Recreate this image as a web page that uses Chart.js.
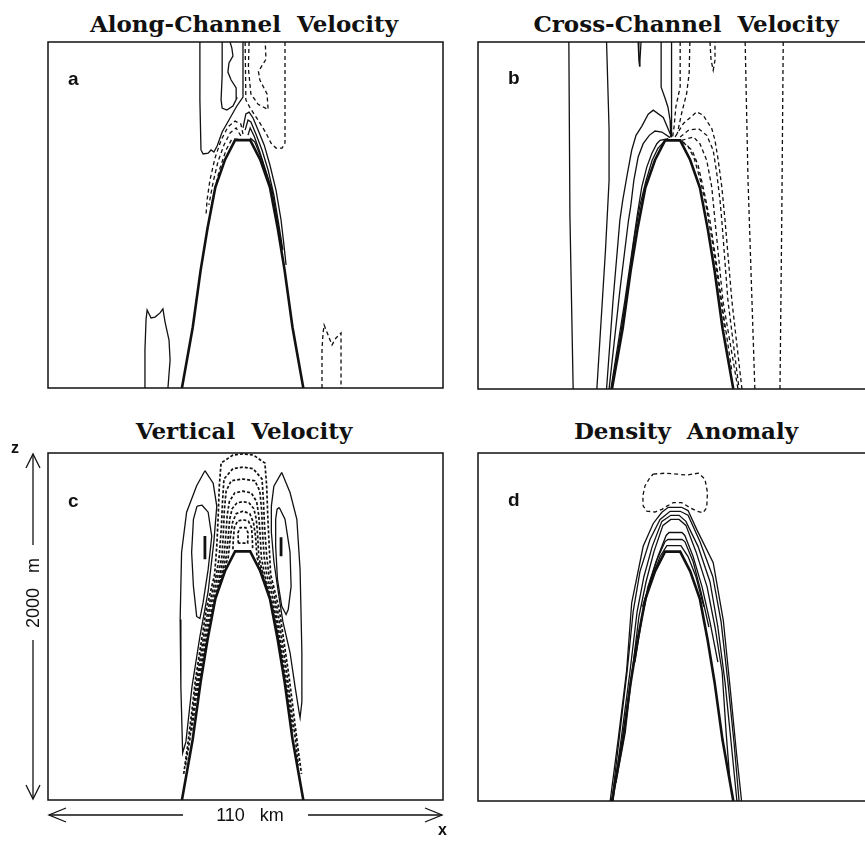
<!DOCTYPE html>
<html>
<head>
<meta charset="utf-8">
<script src="https://cdn.jsdelivr.net/npm/chart.js@4.4.1/dist/chart.umd.min.js"></script>
<style>
  body { margin: 0; background: #fff; width: 865px; height: 842px; overflow: hidden; position: relative; }
  canvas { position: absolute; }
  .title { position: absolute; font: bold 23px "DejaVu Serif", serif; line-height: 23px; white-space: pre; transform: translateX(-50%); color: #111; }
  .tag { position: absolute; font: bold 19px "Liberation Sans", Arial, sans-serif; line-height: 19px; color: #111; }
  .note { position: absolute; font: 18px "Liberation Sans", Arial, sans-serif; line-height: 18px; white-space: pre; color: #111; }
  .axis { font-weight: bold; font-size: 16px; }
</style>
</head>
<body>
<div class="title" style="left:244px;top:12px">Along-Channel  Velocity</div>
<div class="title" style="left:686px;top:12px">Cross-Channel  Velocity</div>
<div class="title" style="left:244px;top:419px">Vertical  Velocity</div>
<div class="title" style="left:686px;top:419px">Density  Anomaly</div>

<canvas id="along" width="401" height="352" style="left:45px;top:39px"></canvas>
<canvas id="cross" width="401" height="353" style="left:475px;top:39px"></canvas>
<canvas id="vert" width="401" height="353" style="left:45px;top:450px"></canvas>
<canvas id="dens" width="401" height="354" style="left:475px;top:450px"></canvas>

<div class="tag" style="left:68px;top:69px">a</div>
<div class="tag" style="left:508px;top:68px">b</div>
<div class="tag" style="left:68px;top:491px">c</div>
<div class="tag" style="left:508px;top:490px">d</div>

<!-- domain size arrows -->
<svg width="865" height="842" style="position:absolute;left:0;top:0" fill="none" stroke="#111" stroke-width="1.3">
  <line x1="33" y1="454" x2="33" y2="545"/>
  <line x1="33" y1="640" x2="33" y2="799"/>
  <polyline points="26,468 33,454 40,468"/>
  <polyline points="26,785 33,799 40,785"/>
  <line x1="49" y1="815" x2="183" y2="815"/>
  <line x1="308" y1="815" x2="442" y2="815"/>
  <polyline points="66,808 49,815 66,822"/>
  <polyline points="425,808 442,815 425,822"/>
</svg>
<div class="note axis" style="left:11px;top:439px">z</div>
<div class="note axis" style="left:438px;top:821px">x</div>
<div class="note" style="left:250px;top:806px;transform:translateX(-50%)">110   km</div>
<div class="note" style="left:-17px;top:584px;width:100px;text-align:center;transform:rotate(-90deg)">2000   m</div>

<script>
// channel width (km) and depth (m)
const xMin = 0, xMax = 110;
const zMin = 0, zMax = 2000;

// ridge outline [km, m]
const ridge = [[37.3,0],[40.3,350],[42.5,680],[44.4,920],[46.6,1160],[49.3,1320],[52.1,1433],
  [56.3,1433],[59.1,1320],[61.8,1160],[64.0,920],[65.9,680],[68.1,350],[71.1,0]];

// (a) along-channel velocity
const alongSolid = [
  [[42.3,2000],[42.3,1665],[42.6,1376],[43.2,1353],[44.6,1358],[45.4,1376],[46.2,1364],[47.1,1399],[48.5,1480],[50.7,1561],[52.6,1630],[54.3,1682],[54.3,2000]],
  [[48.5,2000],[48.5,1809],[48.2,1665],[48.5,1618],[49.8,1607],[51.5,1630],[52.6,1676],[52.4,1734],[51.0,1780],[50.1,1826],[50.4,1879],[51.5,1919],[51.2,1965],[50.7,2000]],
  [[54.3,1503],[55.1,1584],[56.0,1595],[57.1,1561],[58.5,1491],[60.2,1405],[61.8,1289],[63.5,1144],[64.9,971],[65.7,827],[66.3,711]],
  [[54.9,1491],[55.7,1549],[56.5,1538],[57.9,1468],[59.6,1376],[61.3,1260],[62.9,1116],[64.3,942],[65.4,798]],
  [[55.7,1462],[56.3,1503],[57.4,1457],[58.8,1376],[60.4,1272],[62.4,1144],[63.8,971],[65.2,798]],
  [[56.3,1445],[57.6,1422],[59.6,1318],[61.3,1202],[62.9,1058],[64.3,902]],
  [[27.0,0],[27.0,220],[27.3,393],[27.6,451],[28.7,405],[29.8,410],[31.2,434],[32.0,457],[32.6,381],[33.7,277],[34.0,162],[33.4,0]]
];
const alongDashed = [
  [[54.9,2000],[55.1,1665],[56.3,1618],[58.5,1549],[60.7,1474],[62.1,1416],[63.5,1387],[65.2,1387],[66.0,1416],[66.0,1665],[66.0,2000]],
  [[56.0,2000],[55.8,1850],[56.5,1700],[58.5,1640],[61.3,1610],[61.0,1700],[59.0,1780],[58.6,1830],[60.7,1900],[60.5,2000]],
  [[54.3,1468],[53.7,1526],[52.1,1543],[50.1,1509],[48.2,1433],[46.5,1329],[45.1,1202],[44.3,1087],[44.0,1000]],
  [[53.7,1457],[52.4,1503],[50.7,1474],[49.0,1405],[47.3,1306],[46.0,1191],[44.8,1058]],
  [[52.9,1439],[51.2,1439],[49.6,1376],[47.9,1272],[46.5,1156],[45.4,1040]],
  [[76.3,0],[76.3,220],[76.6,318],[76.9,364],[78.0,306],[79.1,249],[80.2,289],[81.6,318],[81.6,220],[81.6,0]]
];

// (b) cross-channel velocity
const crossSolid = [
  [[25.3,2000],[25.6,1000],[26.5,0]],
  [[35.8,2000],[36.5,1500],[36.5,1200],[35.5,800],[33.1,0]],
  [[51.0,2000],[51.0,1740],[52.1,1676],[52.9,1624],[53.5,1549],[53.7,1451]],
  [[53.9,2000],[53.9,1451]],
  [[44.6,2000],[44.8,1896],[45.0,1861],[45.1,1896],[45.4,2000]],
  [[53.9,1453],[51.6,1565],[48.8,1607],[47.4,1584],[45.6,1514],[44.0,1462],[42.8,1376],[41.6,1241],[40.3,1087],[39.5,971],[37.6,509],[35.8,0]],
  [[53.5,1449],[51.2,1481],[49.3,1487],[47.7,1462],[46.0,1414],[44.6,1337],[43.4,1202],[42.5,1048],[41.9,971],[39.5,566],[36.5,0]],
  [[53.0,1443],[50.7,1433],[49.8,1414],[48.4,1357],[47.0,1279],[45.6,1164],[44.4,1010],[40.9,509],[37.0,0]],
  [[52.4,1439],[50.1,1387],[48.5,1318],[46.8,1202],[45.1,1058],[43.4,855],[41.2,509],[37.3,0]]
];
const crossDashed = [
  [[85.0,2000],[84.6,1000],[84.1,0]],
  [[74.4,2000],[75.2,1200],[77.1,0]],
  [[64.6,2000],[64.9,1896],[65.5,1838],[66.0,1896],[66.0,2000]],
  [[56.3,2000],[56.3,1741],[55.1,1626],[54.6,1511],[54.2,1453]],
  [[59.0,2000],[58.8,1819],[58.1,1703],[56.7,1588],[55.5,1472]],
  [[54.9,1453],[57.2,1530],[60.9,1597],[62.7,1578],[65.1,1501],[66.0,1433],[66.9,1318],[67.9,1164],[68.8,971],[70.7,509],[73.5,0]],
  [[56.3,1453],[58.6,1491],[61.4,1501],[63.7,1462],[65.5,1376],[66.5,1241],[67.4,1087],[67.9,971],[69.6,509],[72.7,0]],
  [[56.7,1433],[60.0,1453],[61.8,1414],[63.7,1318],[65.1,1164],[66.0,971],[68.2,509],[72.4,0]],
  [[57.1,1422],[59.6,1376],[61.3,1289],[62.9,1144],[64.6,971],[66.3,740],[68.2,451],[70.7,104]],
  [[56.8,1428],[58.5,1399],[60.2,1329],[61.8,1214],[63.5,1058],[65.2,855],[66.8,624],[68.8,335]]
];

// (c) vertical velocity
const vertSolid = [
  [[43.7,1898],[41.4,1811],[38.6,1659],[37.2,1428],[36.8,1040],[37.0,653],[37.5,272],[38.4,335],[40.1,653],[42.3,942],[44.6,1202],[46.2,1491],[47.0,1694],[46.0,1826],[43.7,1898]],
  [[41.5,1694],[40.5,1618],[40.0,1428],[40.5,1231],[41.4,1058],[42.3,1046],[43.2,1139],[44.6,1329],[45.6,1520],[44.6,1659],[42.9,1699],[41.5,1694]],
  [[65.1,1888],[67.4,1772],[69.3,1618],[70.2,1329],[70.7,850],[70.7,566],[70.2,474],[69.9,509],[68.8,653],[67.4,850],[65.4,1029],[64.1,1202],[62.9,1376],[62.2,1543],[62.2,1694],[62.9,1809],[65.1,1888]],
  [[64.4,1686],[66.0,1618],[67.4,1428],[67.7,1231],[66.9,1098],[66.3,1069],[65.1,1116],[63.9,1272],[63.4,1462],[63.4,1618],[63.8,1676],[64.4,1686]]
];
const vertMarks = [
  [[43.7,1522],[43.7,1387]],
  [[64.9,1514],[64.9,1405]]
];
const vertDashed = [
  [[37.8,150],[38.8,300],[40.0,500],[41.1,700],[42.6,900],[44.1,1100],[46.4,1300],[47.0,1462],[47.4,1636],[47.7,1809],[48.2,1942],[51.5,1988],[54.3,1995],[57.2,1988],[60.4,1942],[60.9,1809],[61.2,1636],[61.6,1462],[62.0,1300],[64.4,1100],[65.8,900],[67.2,700],[68.4,500],[69.6,300],[70.6,150]],
  [[38.3,200],[39.5,350],[40.3,500],[41.5,700],[43.0,900],[44.6,1100],[46.9,1300],[47.7,1405],[48.3,1578],[48.6,1722],[49.0,1850],[51.5,1910],[54.3,1919],[57.1,1910],[59.6,1850],[60.0,1722],[60.3,1578],[60.9,1405],[61.5,1300],[63.9,1100],[65.3,900],[66.7,700],[67.9,500],[68.9,350],[69.7,200]],
  [[40.0,400],[40.7,500],[41.9,700],[43.4,900],[45.1,1100],[47.4,1300],[48.4,1400],[48.8,1520],[49.1,1665],[49.6,1780],[51.0,1840],[54.3,1850],[57.6,1840],[59.0,1780],[59.5,1665],[59.8,1520],[60.2,1400],[60.9,1300],[63.4,1100],[64.8,900],[66.2,700],[67.5,500],[68.1,400]],
  [[41.6,600],[42.2,700],[43.8,900],[45.6,1100],[47.9,1300],[49.0,1400],[49.5,1520],[49.9,1640],[50.5,1720],[52.0,1770],[54.3,1780],[56.6,1770],[58.1,1720],[58.7,1640],[59.1,1520],[59.4,1400],[60.3,1300],[62.9,1100],[64.6,900],[65.9,700],[66.6,600]],
  [[43.2,800],[44.0,900],[46.0,1100],[48.3,1300],[49.6,1400],[50.2,1520],[50.6,1620],[51.3,1680],[52.6,1712],[54.3,1720],[56.0,1712],[57.3,1680],[58.0,1620],[58.4,1520],[58.7,1400],[59.9,1300],[62.6,1100],[64.4,900],[65.1,800]],
  [[47.2,1200],[48.6,1300],[50.2,1400],[50.8,1520],[51.4,1600],[52.4,1650],[54.3,1665],[56.2,1650],[57.2,1600],[57.8,1520],[58.2,1400],[59.6,1300],[61.2,1200]],
  [[51.5,1445],[51.6,1503],[51.9,1570],[52.8,1608],[54.3,1615],[55.8,1608],[56.7,1570],[56.9,1503],[57.0,1445]],
  [[53.0,1480],[52.9,1540],[53.5,1570],[55.1,1570],[55.7,1540],[55.6,1480],[53.0,1480]]
];

// (d) density anomaly
const densSolid = [
  [[36.8,0],[39.1,364],[41.4,751],[42.8,1139],[46.0,1464],[48.8,1595],[51.2,1659],[53.0,1688],[56.7,1688],[58.5,1669],[60.9,1561],[65.5,1370],[68.3,1040],[70.2,653],[72.0,272],[73.4,0]],
  [[37.3,0],[39.5,393],[41.5,740],[43.2,1087],[45.1,1318],[47.9,1503],[50.7,1618],[53.5,1665],[56.3,1665],[58.5,1642],[61.8,1491],[65.4,1289],[67.7,1029],[69.6,682],[71.3,335],[72.7,0]],
  [[37.6,0],[40.1,393],[42.3,740],[44.3,1087],[46.2,1289],[48.5,1462],[51.2,1607],[53.7,1642],[56.0,1642],[57.9,1607],[61.3,1462],[64.6,1260],[66.8,1000],[68.8,682],[70.5,335],[72.1,0]],
  [[38.4,104],[41.0,393],[42.9,740],[44.8,1058],[46.8,1260],[49.0,1433],[51.5,1584],[53.7,1618],[56.0,1618],[57.9,1584],[60.7,1433],[63.8,1231],[66.0,1000],[68.0,740],[69.1,393],[70.2,104]],
  [[43.7,798],[45.7,1058],[47.9,1260],[50.1,1405],[52.4,1526],[53.2,1543],[56.8,1543],[57.6,1526],[59.9,1405],[62.4,1231],[64.6,1029],[66.8,798]],
  [[45.4,1029],[47.3,1231],[49.6,1376],[52.1,1491],[52.9,1503],[56.8,1503],[57.6,1491],[59.9,1376],[62.1,1202],[64.3,1000]],
  [[45.8,1116],[48.5,1289],[50.7,1405],[52.6,1468],[56.5,1468],[58.5,1405],[60.7,1289],[62.9,1116]]
];
const densDashed = [
  [[48.8,1879],[52.1,1884],[55.3,1879],[58.1,1873],[61.4,1884],[63.2,1850],[63.9,1773],[63.7,1686],[62.7,1657],[60.9,1666],[59.0,1686],[56.7,1715],[54.4,1715],[52.6,1695],[51.2,1676],[49.3,1661],[47.0,1666],[46.0,1695],[45.9,1753],[46.5,1811],[47.9,1859],[48.8,1879]]
];

const ink = '#111';

// box round the plot area
const framePlugin = {
  id: 'frame',
  afterDraw(chart) {
    const { ctx, chartArea: a } = chart;
    ctx.save();
    ctx.strokeStyle = ink;
    ctx.lineWidth = 1.5;
    ctx.strokeRect(a.left, a.top, a.right - a.left, a.bottom - a.top);
    ctx.restore();
  }
};

function lineSet(pts, dash, width) {
  return {
    data: pts.map(p => ({ x: p[0], y: p[1] })),
    showLine: true,
    borderColor: ink,
    borderWidth: width,
    borderDash: dash || [],
    pointRadius: 0,
    fill: false,
    tension: 0
  };
}

// dash: pattern for negative contours, dw: their stroke width
function drawPanel(id, solid, dashed, marks, dash, dw) {
  var sets = [lineSet(ridge, null, 2.6)];
  solid.forEach(function (s) { sets.push(lineSet(s, null, 1.3)); });
  dashed.forEach(function (s) { sets.push(lineSet(s, dash || [4, 3], dw || 1.3)); });
  (marks || []).forEach(function (s) { sets.push(lineSet(s, null, 2.8)); });
  return new Chart(document.getElementById(id).getContext('2d'), {
    type: 'scatter',
    data: { datasets: sets },
    options: {
      responsive: false,
      animation: false,
      events: [],
      layout: { padding: 3 },
      plugins: { legend: { display: false }, tooltip: { enabled: false } },
      scales: {
        x: { type: 'linear', min: xMin, max: xMax, display: false },
        y: { type: 'linear', min: zMin, max: zMax, display: false }
      }
    },
    plugins: [framePlugin]
  });
}

var alongChart = drawPanel('along', alongSolid, alongDashed);
var crossChart = drawPanel('cross', crossSolid, crossDashed);
var vertChart = drawPanel('vert', vertSolid, vertDashed, vertMarks, [3, 2], 1.7);
var densChart = drawPanel('dens', densSolid, densDashed);
</script>
</body>
</html>
